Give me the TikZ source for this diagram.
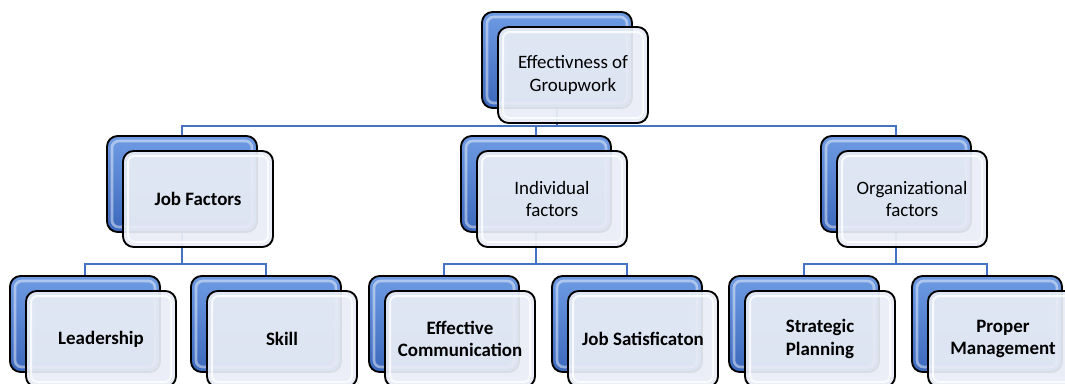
\documentclass[tikz,border=0pt]{standalone}
\usepackage{fontspec}
\setmainfont{Carlito}
\definecolor{bluetop}{HTML}{6E9BE3}
\definecolor{bluebot}{HTML}{3C68BC}
\definecolor{frontc}{HTML}{E9EDF6}
\definecolor{connc}{HTML}{4472C4}
\begin{document}
\begin{tikzpicture}[x=0.75pt,y=-0.75pt,
  backbox/.style={draw=black,line width=1.4pt,rounded corners=8pt,
    minimum width=112.5pt,minimum height=72pt,inner sep=0pt,
    top color=bluetop,bottom color=bluebot,
    path picture={\draw[white,opacity=0.45,line width=2pt,rounded corners=5pt]
      ([shift={(5,5)}]path picture bounding box.north west) rectangle
      ([shift={(-5,-5)}]path picture bounding box.south east);}},
  frontbox/.style={draw=black,line width=1.4pt,rounded corners=8pt,
    minimum width=112.5pt,minimum height=72pt,inner sep=0pt,
    fill=frontc,fill opacity=0.93,text opacity=1,align=center,
    font=\fontsize{14.2}{17}\selectfont,
    path picture={\draw[white,opacity=0.8,line width=1.5pt,rounded corners=5pt]
      ([shift={(5,5)}]path picture bounding box.north west) rectangle
      ([shift={(-5,-5)}]path picture bounding box.south east);}},
  conn/.style={draw=connc,line width=1.3pt}]
\useasboundingbox (0,0) rectangle (1065,383);
\clip (0,0) rectangle (1065,383);
% back boxes
\node[backbox] (t) at (557,60) {};
\node[backbox] (j) at (182,184) {};
\node[backbox] (i) at (536,184) {};
\node[backbox] (o) at (896,184) {};
\node[backbox] (l) at (85,324) {};
\node[backbox] (s) at (266,324) {};
\node[backbox] (e) at (444,324) {};
\node[backbox] (js) at (627,324) {};
\node[backbox] (sp) at (804,324) {};
\node[backbox] (pm) at (987,324) {};
% connectors
\draw[conn] (t.south) -- ++(0,17) coordinate (tb);
\draw[conn] (j.north) |- (tb) -| (o.north);
\draw[conn] (i.north) -- (i.north |- tb);
\draw[conn] (j.south) -- ++(0,31) coordinate (jb);
\draw[conn] (l.north) |- (jb) -| (s.north);
\draw[conn] (i.south) -- ++(0,31) coordinate (ib);
\draw[conn] (e.north) |- (ib) -| (js.north);
\draw[conn] (o.south) -- ++(0,31) coordinate (ob);
\draw[conn] (sp.north) |- (ob) -| (pm.north);
% front boxes
\node[frontbox] (tf) at (573,75) {Effectivness of\\Groupwork};
\node[frontbox] (jf) at (198,199) {\bfseries Job Factors};
\node[frontbox] (if) at (552,199) {Individual\\factors};
\node[frontbox] (of) at (912,199) {Organizational\\factors};
\node[frontbox] (lf) at (101,339) {\bfseries Leadership};
\node[frontbox] (sf) at (282,339) {\bfseries Skill};
\node[frontbox] (ef) at (460,339) {\bfseries Effective\\\bfseries Communication};
\node[frontbox] (jsf) at (643,339) {\bfseries Job Satisficaton};
\node[frontbox] (spf) at (820,339) {\bfseries Strategic\\\bfseries Planning};
\node[frontbox] (pmf) at (1003,339) {\bfseries Proper\\\bfseries Management};
\end{tikzpicture}
\end{document}
